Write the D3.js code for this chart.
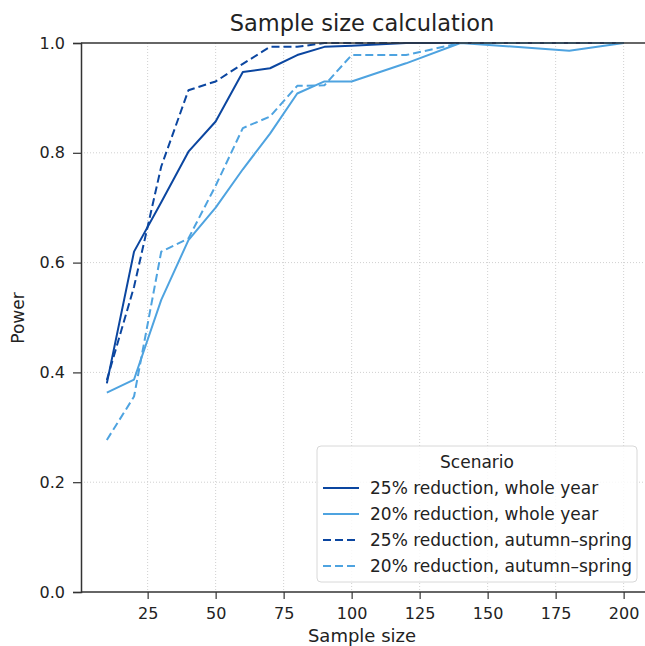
<html>
<head>
  <meta charset="UTF-8">
  <title>Sample size calculation</title>
  <script src="https://d3js.org/d3.v7.min.js"></script>
  <style>
    body { margin: 0; background: #fff; }
    text { font-family: "DejaVu Sans", sans-serif; fill: #222; }
  </style>
</head>
<body>
<svg id="chart" width="645" height="646"></svg>
<script>
// sample sizes on the x axis
const sampleSizes = [10, 20, 30, 40, 50, 60, 70, 80, 90, 100, 120, 140, 160, 180, 200];

// power for each scenario
const whole25 = [0.38, 0.62, 0.71, 0.802, 0.857, 0.947, 0.954, 0.978, 0.993, 0.995, 1.0, 1.0, 1.0, 1.0, 1.0];
const whole20 = [0.363, 0.387, 0.532, 0.641, 0.70, 0.77, 0.835, 0.908, 0.93, 0.93, 0.963, 1.0, 0.993, 0.986, 1.0];
const autumn25 = [0.386, 0.556, 0.775, 0.914, 0.93, 0.962, 0.993, 0.993, 1.0, 1.0, 1.0, 1.0, 1.0, 1.0, 1.0];
const autumn20 = [0.277, 0.356, 0.62, 0.644, 0.74, 0.845, 0.866, 0.922, 0.923, 0.978, 0.978, 1.0, 1.0, 1.0, 1.0];

const seriesNames = ["25% reduction, whole year", "20% reduction, whole year",
                     "25% reduction, autumn\u2013spring", "20% reduction, autumn\u2013spring"];
const xTicks = [25, 50, 75, 100, 125, 150, 175, 200];
const yTicks = [0, 0.2, 0.4, 0.6, 0.8, 1.0];

const svg = d3.select("#chart");
const dark = "#0b46a0", light = "#4ea3e0";

const series = [
  { name: seriesNames[0], values: whole25, color: dark, dash: null },
  { name: seriesNames[1], values: whole20, color: light, dash: null },
  { name: seriesNames[2], values: autumn25, color: dark, dash: "8,4" },
  { name: seriesNames[3], values: autumn20, color: light, dash: "8,4" }
];

const mLeft = 81, mTop = 43, mBottom = 592;
const x = d3.scaleLinear().domain([0.5, 209.5]).range([mLeft, mLeft + 209 * 2.72]);
const y = d3.scaleLinear().domain([0, 1]).range([mBottom, mTop]);

// grid
svg.append("g").selectAll("line").data(xTicks).join("line")
  .attr("x1", d => x(d)).attr("x2", d => x(d)).attr("y1", mTop).attr("y2", mBottom)
  .attr("stroke", "#d0d0d0").attr("stroke-width", 1).attr("stroke-dasharray", "1,2");
svg.append("g").selectAll("line").data(yTicks.slice(1, 5)).join("line")
  .attr("x1", mLeft).attr("x2", 645).attr("y1", d => y(d)).attr("y2", d => y(d))
  .attr("stroke", "#d0d0d0").attr("stroke-width", 1).attr("stroke-dasharray", "1,2");

// lines
const line = d3.line().x((d, i) => x(sampleSizes[i])).y(d => y(d));
svg.append("g").selectAll("path").data(series).join("path")
  .attr("d", d => line(d.values))
  .attr("fill", "none")
  .attr("stroke", d => d.color)
  .attr("stroke-width", 2)
  .attr("stroke-linejoin", "round")
  .attr("stroke-dasharray", d => d.dash);

// axes
const xAxis = svg.append("g").attr("transform", `translate(0,${mBottom})`)
  .call(d3.axisBottom(x).tickValues(xTicks).tickSize(7).tickPadding(9));
const yAxis = svg.append("g").attr("transform", `translate(${mLeft},0)`)
  .call(d3.axisLeft(y).tickValues(yTicks).tickFormat(d3.format(".1f")).tickSize(8).tickPadding(8));
[xAxis, yAxis].forEach(a => {
  a.selectAll("text").style("font-size", "16px").attr("fill", "#222");
  a.selectAll("line").attr("stroke", "#333").attr("stroke-width", 1.2);
  a.select(".domain").attr("stroke", "#333").attr("stroke-width", 1.5);
});
xAxis.select(".domain").attr("d", `M${mLeft},0H645`);
svg.append("line").attr("x1", mLeft).attr("x2", 645).attr("y1", mTop).attr("y2", mTop)
  .attr("stroke", "#333").attr("stroke-width", 1.5);

// titles
svg.append("text").attr("x", 362).attr("y", 31).attr("text-anchor", "middle")
  .style("font-size", "22.5px").text("Sample size calculation");
svg.append("text").attr("x", 362).attr("y", 642).attr("text-anchor", "middle")
  .style("font-size", "18px").text("Sample size");
svg.append("text").attr("transform", "translate(24,318) rotate(-90)").attr("text-anchor", "middle")
  .style("font-size", "17px").text("Power");

// legend
const lg = svg.append("g").attr("transform", "translate(317,446)");
lg.append("rect").attr("width", 320).attr("height", 136).attr("rx", 4)
  .attr("fill", "#fff").attr("fill-opacity", 0.85).attr("stroke", "#d8d8d8");
lg.append("text").attr("x", 160).attr("y", 22).attr("text-anchor", "middle")
  .style("font-size", "17px").text("Scenario");
const rows = lg.selectAll("g.row").data(series).join("g")
  .attr("class", "row")
  .attr("transform", (d, i) => `translate(0,${42 + i * 26})`);
rows.append("line").attr("x1", 6).attr("x2", 42).attr("y1", 0).attr("y2", 0)
  .attr("stroke", d => d.color).attr("stroke-width", 2).attr("stroke-dasharray", d => d.dash);
rows.append("text").attr("x", 53).attr("y", 6).style("font-size", "17px").text(d => d.name);
</script>
</body>
</html>
